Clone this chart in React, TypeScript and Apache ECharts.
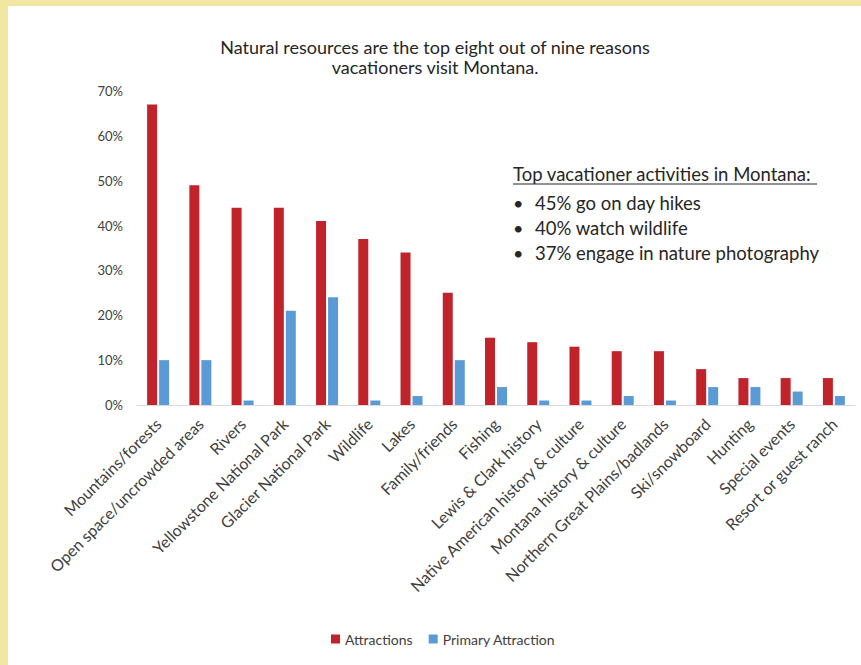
import React, { useEffect, useRef } from "react";
import * as echarts from "echarts";

const categories = [
  "Mountains/forests",
  "Open space/uncrowded areas",
  "Rivers",
  "Yellowstone National Park",
  "Glacier National Park",
  "Wildlife",
  "Lakes",
  "Family/friends",
  "Fishing",
  "Lewis & Clark history",
  "Native American history & culture",
  "Montana history & culture",
  "Northern Great Plains/badlands",
  "Ski/snowboard",
  "Hunting",
  "Special events",
  "Resort or guest ranch",
];
const attractions = [67, 49, 44, 44, 41, 37, 34, 25, 15, 14, 13, 12, 12, 8, 6, 6, 6];
const primaryAttraction = [10, 10, 1, 21, 24, 1, 2, 10, 4, 1, 1, 2, 1, 4, 4, 3, 2];
const titleLines = [
  "Natural resources are the top eight out of nine reasons",
  "vacationers visit Montana.",
];
const noteHeader = "Top vacationer activities in Montana:";
const noteBullets = [
  "45% go on day hikes",
  "40% watch wildlife",
  "37% engage in nature photography",
];

const FONT = "Lato, 'Open Sans', 'Liberation Sans', sans-serif";

export default function App() {
  const ref = useRef<HTMLDivElement>(null);
  useEffect(() => {
    document.body.style.margin = "0";
    const chart = echarts.init(ref.current!, null, { renderer: "svg" });
    chart.setOption({
      animation: false,
      backgroundColor: "#ffffff",
      textStyle: { fontFamily: FONT },
      grid: { left: 137, right: 6, top: 91, bottom: 260, containLabel: false },
      legend: {
        left: 326,
        top: 627,
        icon: "rect",
        itemWidth: 9,
        itemHeight: 9,
        itemGap: 16,
        itemTextGap: 4,
        textStyle: { fontSize: 14, color: "#404040", fontFamily: FONT },
        data: ["Attractions", "Primary Attraction"],
      },
      xAxis: {
        type: "category",
        data: categories,
        axisTick: { show: false },
        axisLine: { lineStyle: { color: "#D9D9D9", width: 1 } },
        axisLabel: {
          interval: 0,
          rotate: 45,
          margin: 16,
          fontSize: 16,
          color: "#404040",
          fontFamily: FONT,
        },
      },
      yAxis: {
        type: "value",
        min: 0,
        max: 70,
        interval: 10,
        axisLine: { show: false },
        axisTick: { show: false },
        splitLine: { show: false },
        axisLabel: {
          formatter: "{value}%",
          fontSize: 13,
          color: "#404040",
          margin: 14,
          fontFamily: FONT,
        },
      },
      series: [
        {
          name: "Attractions",
          type: "bar",
          data: attractions,
          barWidth: 10,
          barGap: "20%",
          itemStyle: { color: "#C1232B" },
        },
        {
          name: "Primary Attraction",
          type: "bar",
          data: primaryAttraction,
          barWidth: 10,
          itemStyle: { color: "#5B9BD5" },
        },
      ],
      graphic: [
        { type: "rect", shape: { x: 0, y: 0, width: 861, height: 6 }, style: { fill: "#F1E7A2" }, silent: true },
        { type: "rect", shape: { x: 0, y: 0, width: 8, height: 665 }, style: { fill: "#F1E7A2" }, silent: true },
        {
          type: "text",
          x: 435,
          y: 57,
          style: {
            text: titleLines.join("\n"),
            fontSize: 18,
            lineHeight: 20,
            fill: "#262626",
            fontFamily: FONT,
            align: "center",
            verticalAlign: "middle",
          },
        },
        {
          type: "text",
          x: 513,
          y: 174,
          style: {
            text: noteHeader,
            fontSize: 18.5,
            fill: "#262626",
            fontFamily: FONT,
            align: "left",
            verticalAlign: "middle",
          },
        },
        {
          type: "line",
          shape: { x1: 513, y1: 184, x2: 817, y2: 184 },
          style: { stroke: "#262626", lineWidth: 1 },
        },
        ...noteBullets.flatMap((t, i) => [
          {
            type: "text",
            x: 513,
            y: 203 + i * 25,
            style: {
              text: "•",
              fontSize: 18,
              fill: "#262626",
              fontFamily: FONT,
              align: "left",
              verticalAlign: "middle",
            },
          },
          {
            type: "text",
            x: 535,
            y: 203 + i * 25,
            style: {
              text: t,
              fontSize: 18.5,
              fill: "#262626",
              fontFamily: FONT,
              align: "left",
              verticalAlign: "middle",
            },
          },
        ]),
      ],
    });
    return () => chart.dispose();
  }, []);
  return <div ref={ref} style={{ position: "fixed", left: 0, top: 0, width: 861, height: 665 }} />;
}
